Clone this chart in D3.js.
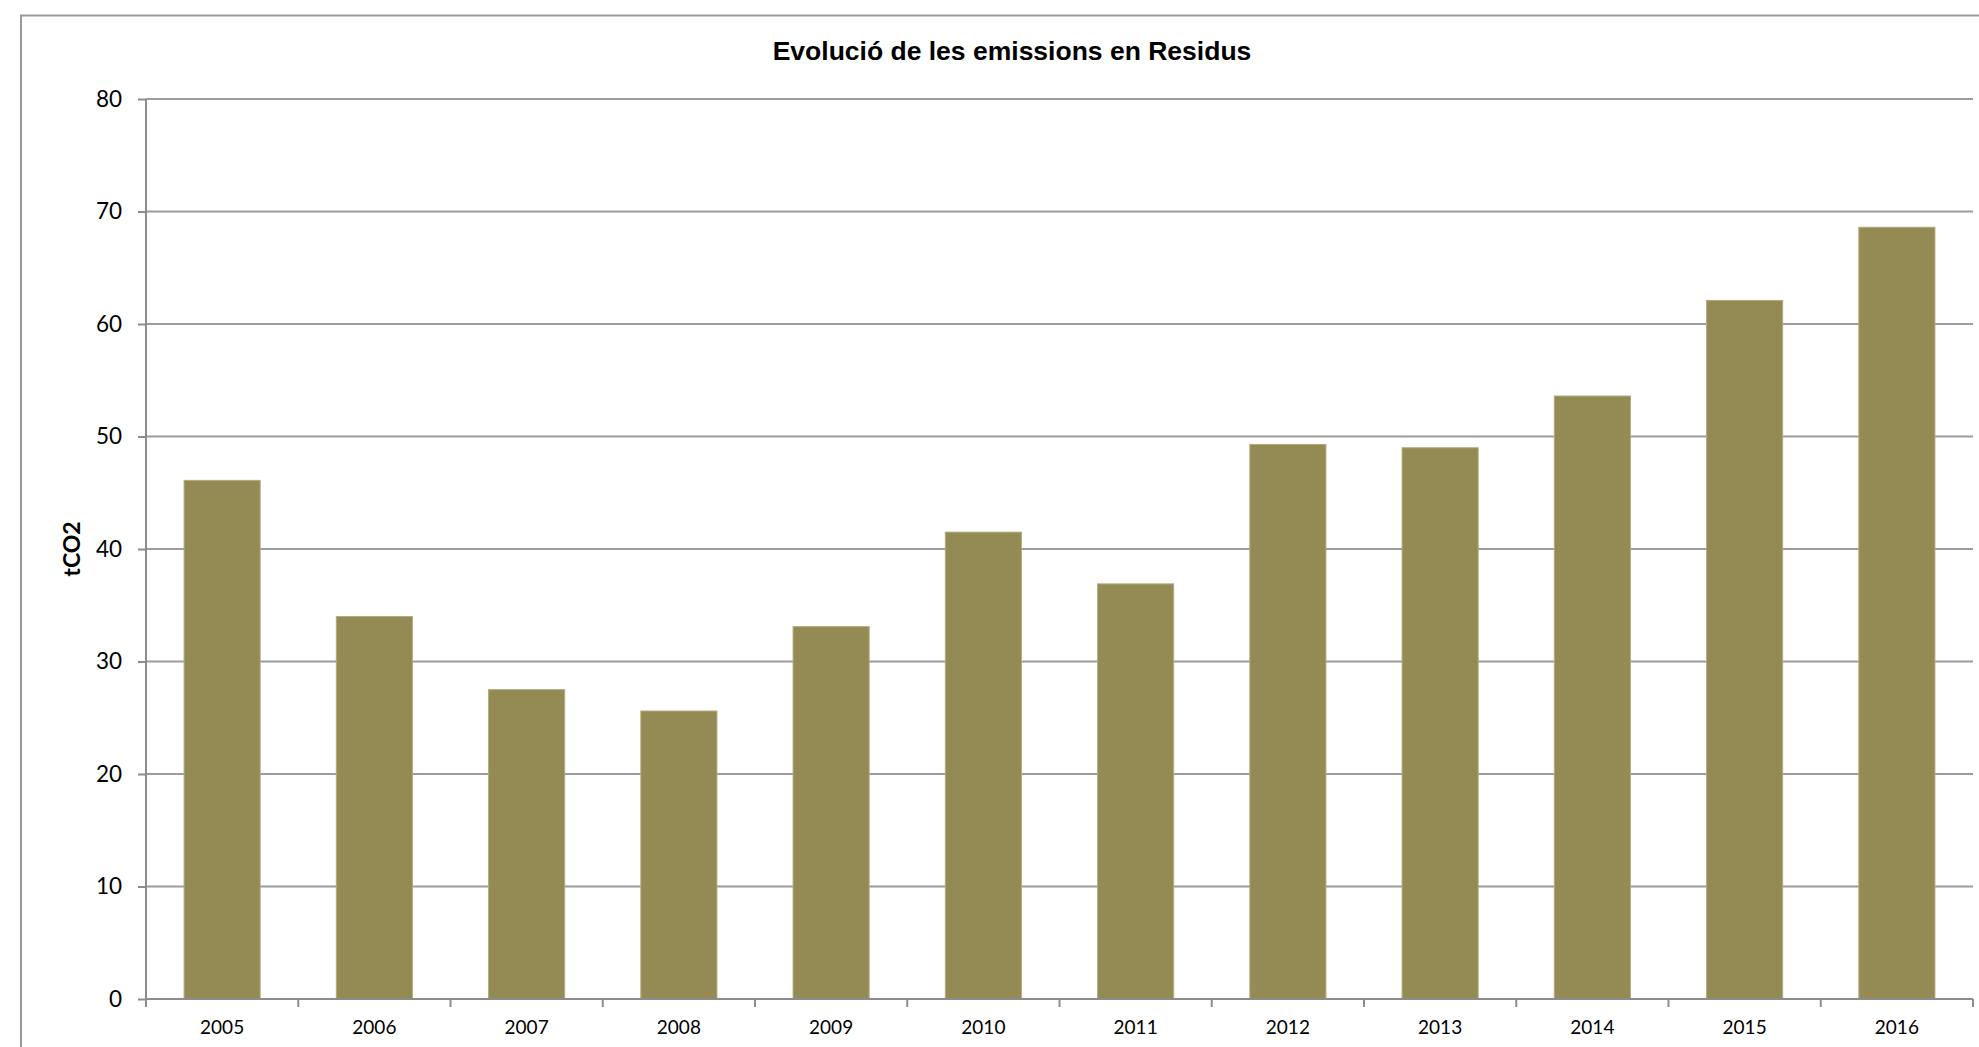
<!DOCTYPE html>
<html>
<head>
<meta charset="utf-8">
<script src="https://cdn.jsdelivr.net/npm/d3@7"></script>
<style>
  html, body { margin: 0; padding: 0; background: #fff; }
  svg { display: block; }
</style>
</head>
<body>
<svg id="chart" width="1979" height="1047"></svg>
<script>
const title = "Evolució de les emissions en Residus";
const yAxisLabel = "tCO2";
const years = ["2005","2006","2007","2008","2009","2010","2011","2012","2013","2014","2015","2016"];
const emissions = [46.1, 34.0, 27.5, 25.6, 33.1, 41.5, 36.9, 49.3, 49.0, 53.6, 62.1, 68.6];
const yTicks = [0, 10, 20, 30, 40, 50, 60, 70, 80];

const svg = d3.select("#chart");
const W = 1979, H = 1047;
const margin = {left: 146, right: 6, top: 99, bottom: 48};
const plotW = W - margin.left - margin.right;
const plotH = H - margin.top - margin.bottom;

// outer frame
svg.append("path")
  .attr("d", `M21,${H} L21,15.5 L${W},15.5`)
  .attr("fill", "none").attr("stroke", "#9a9a9a").attr("stroke-width", 2);

const x = d3.scaleBand().domain(years).range([0, plotW]).paddingInner(0.5).paddingOuter(0.25);
const y = d3.scaleLinear().domain([0, 80]).range([plotH, 0]);

const g = svg.append("g").attr("transform", `translate(${margin.left},${margin.top})`);

// grid lines
g.append("g").selectAll("line").data(yTicks.filter(d => d > 0)).join("line")
  .attr("x1", 0).attr("x2", plotW)
  .attr("y1", d => y(d)).attr("y2", d => y(d))
  .attr("stroke", "#9c9c9c").attr("stroke-width", 2);

// bars
g.append("g").selectAll("rect").data(years).join("rect")
  .attr("x", (d) => x(d))
  .attr("width", x.bandwidth())
  .attr("y", (d, i) => y(emissions[i]))
  .attr("height", (d, i) => y(0) - y(emissions[i]))
  .attr("fill", "#948A54")
  .attr("stroke", "#b3ab7f").attr("stroke-width", 1);

// y axis
const yAxis = d3.axisLeft(y).tickValues(yTicks).tickSize(8).tickPadding(16);
const yg = g.append("g").call(yAxis);
yg.select(".domain").attr("d", `M0,0 L0,${plotH + 8}`).attr("stroke", "#8c8c8c").attr("stroke-width", 2);
yg.selectAll(".tick line").attr("stroke", "#8c8c8c").attr("stroke-width", 2);
yg.selectAll(".tick text")
  .attr("font-family", "Lato, 'Open Sans', sans-serif")
  .attr("font-size", 22.5).attr("fill", "#000");

// x axis with ticks at band boundaries
const xg = g.append("g").attr("transform", `translate(0,${plotH})`);
xg.append("line").attr("x1", 0).attr("x2", plotW).attr("y1", 0).attr("y2", 0)
  .attr("stroke", "#8c8c8c").attr("stroke-width", 2);
const boundaries = years.map(d => x(d) - x.step() * 0.25).concat([plotW]);
xg.selectAll("line.tk").data(boundaries).join("line").attr("class", "tk")
  .attr("x1", d => d).attr("x2", d => d).attr("y1", 0).attr("y2", 8)
  .attr("stroke", "#8c8c8c").attr("stroke-width", 2);
xg.selectAll("text").data(years).join("text")
  .attr("x", d => x(d) + x.bandwidth() / 2)
  .attr("y", 35)
  .attr("text-anchor", "middle")
  .attr("font-family", "Lato, 'Open Sans', sans-serif")
  .attr("font-size", 19).attr("fill", "#000")
  .text(d => d);

// title
svg.append("text")
  .attr("x", 1012).attr("y", 60)
  .attr("text-anchor", "middle")
  .attr("font-family", "'Liberation Sans', Arial, sans-serif")
  .attr("font-weight", "bold").attr("font-size", 26.5).attr("fill", "#000")
  .text(title);

// y axis label
svg.append("text")
  .attr("transform", `translate(80,${margin.top + y(40)}) rotate(-90)`)
  .attr("text-anchor", "middle")
  .attr("font-family", "Lato, 'Open Sans', sans-serif")
  .attr("font-weight", "bold").attr("font-size", 23).attr("fill", "#000")
  .text(yAxisLabel);
</script>
</body>
</html>
